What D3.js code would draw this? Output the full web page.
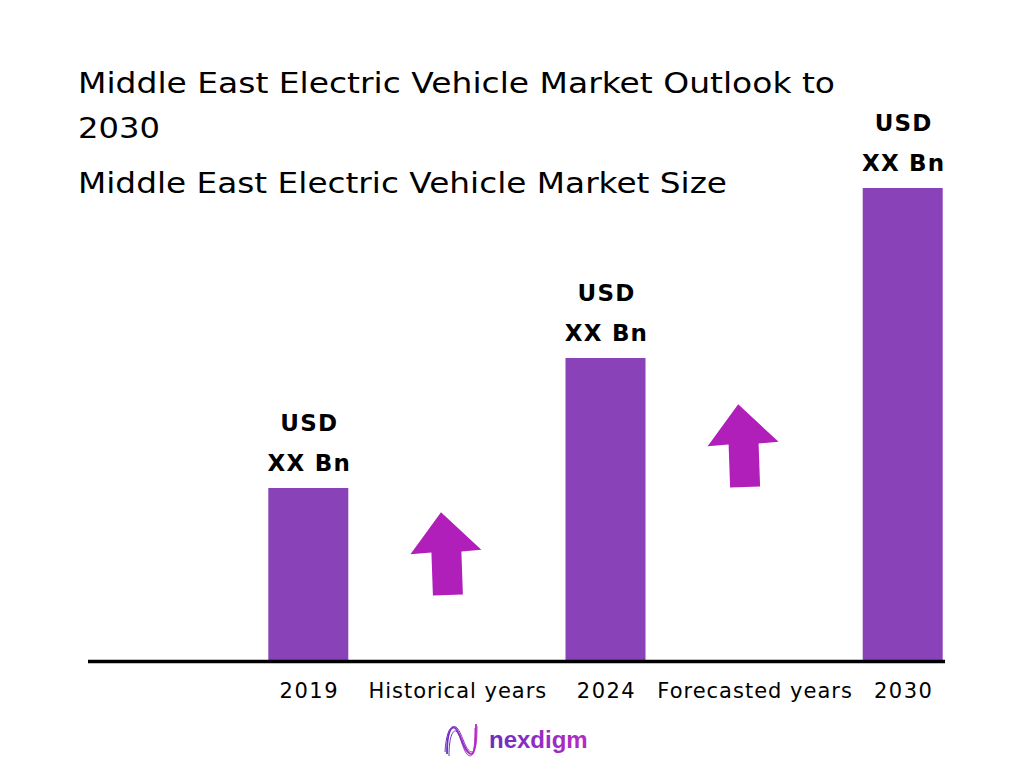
<!doctype html>
<html lang="en">
  <head>
    <meta charset="UTF-8" />
    <title>Middle East Electric Vehicle Market Outlook to 2030</title>
    <style>
      body {
        margin: 0;
        background: #fff;
      }
      svg {
        display: block;
      }
    </style>
  </head>
  <body>
    <svg id="chart" width="1024" height="768"></svg>

    <script src="https://d3js.org/d3.v7.min.js"></script>
    <script>
      // chart data
      const slots = ["2019", "Historical years", "2024", "Forecasted years", "2030"];
      const years = ["2019", "2024", "2030"];
      const sizes = [17.2, 30.2, 47.2]; // bar heights (relative)
      const valueLabels = ["USD", "XX Bn"];
      const arrowSlots = ["Historical years", "Forecasted years"];
      const arrowLevels = [6.5, 17.3];
      const titleLines = [
        "Middle East Electric Vehicle Market Outlook to",
        "2030",
        "Middle East Electric Vehicle Market Size",
      ];

      const W = 1024;
      const H = 768;
      const svg = d3.select("#chart").attr("width", W).attr("height", H);

      const x = d3.scaleBand().domain(slots).range([234, 977]);
      const y = d3.scaleLinear().domain([0, 50]).range([660, 160]);
      const barW = 80;
      const barColor = "#8a42b8";
      const arrowColor = "#b11fba";
      const wideFont = "'DejaVu Sans', Verdana, sans-serif";
      const cx = (d) => x(d) + x.bandwidth() / 2;

      // titles
      const titleY = [93, 138, 193];
      const titleLen = [757, 82, 649];
      svg
        .append("g")
        .selectAll("text")
        .data(titleLines)
        .join("text")
        .attr("x", 78)
        .attr("y", (d, i) => titleY[i])
        .attr("textLength", (d, i) => titleLen[i])
        .attr("lengthAdjust", "spacingAndGlyphs")
        .attr("font-family", wideFont)
        .attr("font-size", 28)
        .attr("fill", "#000")
        .text((d) => d);

      // bars
      svg
        .append("g")
        .selectAll("rect")
        .data(years)
        .join("rect")
        .attr("x", (d) => cx(d) - barW / 2)
        .attr("y", (d, i) => y(sizes[i]))
        .attr("width", barW)
        .attr("height", (d, i) => y(0) - y(sizes[i]))
        .attr("fill", barColor);

      // value labels
      const vl = svg
        .append("g")
        .selectAll("g")
        .data(years)
        .join("g")
        .attr("transform", (d, i) => `translate(${cx(d) + 1},${y(sizes[i])})`);
      vl.selectAll("text")
        .data(valueLabels)
        .join("text")
        .attr("text-anchor", "middle")
        .attr("y", (d, i) => (i === 0 ? -57 : -17))
        .attr("font-family", wideFont)
        .attr("font-weight", "bold")
        .attr("font-size", 23)
        .attr("letter-spacing", 1.2)
        .attr("fill", "#000")
        .text((d) => d);

      // baseline
      svg
        .append("line")
        .attr("x1", 88)
        .attr("x2", 945)
        .attr("y1", y(0) + 1.5)
        .attr("y2", y(0) + 1.5)
        .attr("stroke", "#000")
        .attr("stroke-width", 3.5);

      // category labels under the axis
      svg
        .append("g")
        .selectAll("text")
        .data(slots)
        .join("text")
        .attr("x", (d) => cx(d) + 1)
        .attr("y", 698)
        .attr("text-anchor", "middle")
        .attr("font-family", wideFont)
        .attr("font-size", 21)
        .attr("letter-spacing", (d) => (years.includes(d) ? 1.5 : 1))
        .attr("fill", "#000")
        .text((d) => d);

      // growth arrows
      const arrowPath =
        "M-15,0 L-15,-43 L-36,-42 L-4,-83 L35,-44 L15,-43 L15,0 Z";
      svg
        .append("g")
        .selectAll("path")
        .data(arrowSlots)
        .join("path")
        .attr(
          "transform",
          (d, i) => `translate(${cx(d) - 9},${y(arrowLevels[i])}) rotate(-2)`,
        )
        .attr("d", arrowPath)
        .attr("fill", arrowColor);

      // logo
      const defs = svg.append("defs");
      const grad = defs
        .append("linearGradient")
        .attr("id", "logoGrad")
        .attr("x1", "0%")
        .attr("x2", "100%");
      grad.append("stop").attr("offset", "0%").attr("stop-color", "#6a2fc0");
      grad.append("stop").attr("offset", "100%").attr("stop-color", "#b62bc4");

      const logo = svg.append("g").attr("transform", "translate(445,722)");
      [
        ["M2,32 C2,10 6,4 10,6 C16,10 18,30 26,32 C30,33 31,20 31,2", 1.8],
        ["M0,30 C1,12 5,2 11,5 C17,9 20,30 27,30 C31,30 32,18 32,4", 1],
        ["M4,34 C4,14 8,8 11,9 C16,12 18,33 25,34 C29,34 30,22 30,6", 1],
      ].forEach(([d, w]) => {
        logo
          .append("path")
          .attr("d", d)
          .attr("fill", "none")
          .attr("stroke", "url(#logoGrad)")
          .attr("stroke-width", w);
      });
      svg
        .append("text")
        .attr("x", 489)
        .attr("y", 748)
        .attr("font-family", "'Liberation Sans', Arial, sans-serif")
        .attr("font-weight", "bold")
        .attr("font-size", 24)
        .attr("fill", "url(#logoGrad)")
        .text("nexdigm");
    </script>
  </body>
</html>
